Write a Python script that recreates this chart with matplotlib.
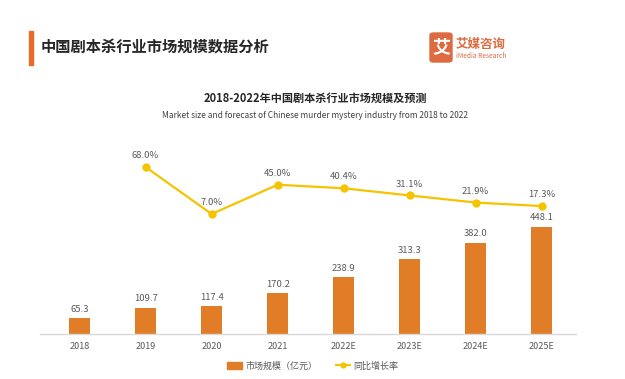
import matplotlib
matplotlib.use("Agg")
import matplotlib.pyplot as plt
from matplotlib.patches import FancyBboxPatch, Rectangle
from matplotlib.lines import Line2D
from matplotlib.patches import Patch

plt.rcParams['font.family'] = ['Noto Sans CJK SC', 'DejaVu Sans']

categories = ['2018', '2019', '2020', '2021', '2022E', '2023E', '2024E', '2025E']
market_size = [65.3, 109.7, 117.4, 170.2, 238.9, 313.3, 382.0, 448.1]
growth_x = ['2019', '2020', '2021', '2022E', '2023E', '2024E', '2025E']
growth = [68.0, 7.0, 45.0, 40.4, 31.1, 21.9, 17.3]

W, H = 625, 379
fig = plt.figure(figsize=(W/100, H/100), dpi=100)
fig.patch.set_facecolor('white')

# axes: left 40, right 576, top 145, bottom 334 (pixels)
ax = fig.add_axes([40/W, 1-334/H, (576-40)/W, (334-145)/H])
ax.set_facecolor('none')
bar_color = '#E07D26'
line_color = '#F5C400'
label_color = '#595959'

xpos = list(range(len(categories)))
ax.bar(xpos, market_size, width=0.31, color=bar_color, zorder=2)
for x, v in zip(xpos, market_size):
    ax.text(x, v + 18, f'{v:.1f}', ha='center', va='bottom', fontsize=6.8, color=label_color)
ax.set_xlim(-0.6, 7.52)
ax.set_ylim(0, 790)
ax.set_xticks(xpos)
ax.set_xticklabels(categories, fontsize=6.5, color=label_color)
ax.tick_params(axis='x', length=0, pad=6)
ax.set_yticks([])
for s in ['top', 'right', 'left']:
    ax.spines[s].set_visible(False)
ax.spines['bottom'].set_color('#d9d9d9')
ax.spines['bottom'].set_linewidth(1)

ax2 = ax.twinx()
gx = [categories.index(c) for c in growth_x]
ax2.plot(gx, growth, color=line_color, lw=1.6, marker='o', ms=5, zorder=3)
for x, v in zip(gx, growth):
    ax2.text(x, v + 9, f'{v:.1f}%', ha='center', va='bottom', fontsize=6.8, color=label_color)
ax2.set_ylim(-148.8, 96.6)
ax2.set_yticks([])
for s in ['top', 'right', 'left', 'bottom']:
    ax2.spines[s].set_visible(False)

# Title with orange bar
fig.patches.append(Rectangle((29/W, 1-65/H), 4/W, 34/H, transform=fig.transFigure,
                             color='#EA6A2C', zorder=5))
fig.text(41/W, 1-47/H, '中国剧本杀行业市场规模数据分析', fontsize=11, fontweight='bold',
         color='#262626', va='center', ha='left')

# Logo
fig.patches.append(FancyBboxPatch((430/W, 1-62/H), 22/W, 29/H, transform=fig.transFigure,
                                  boxstyle='round,pad=0,rounding_size=0.006',
                                  color='#DE6A40', zorder=5))
fig.text(441/W, 1-47/H, '艾', fontsize=13, fontweight='bold', color='white',
         ha='center', va='center', zorder=6)
fig.text(456/W, 1-44/H, '艾媒咨询', fontsize=9, fontweight='bold', color='#DE6A40',
         ha='left', va='center')
fig.text(456/W, 1-56/H, 'iMedia Research', fontsize=4.8, color='#DE6A40',
         ha='left', va='center')

# Chart titles
fig.text(315/W, 1-98/H, '2018-2022年中国剧本杀行业市场规模及预测', fontsize=8, fontweight='bold',
         color='#262626', ha='center', va='center')
fig.text(315/W, 1-115/H, 'Market size and forecast of Chinese murder mystery industry from 2018 to 2022',
         fontsize=6, color='#404040', ha='center', va='center')

# Legend
handles = [Patch(color=bar_color, label='市场规模（亿元）'),
           Line2D([0], [0], color=line_color, lw=1.5, marker='o', ms=3.5, label='同比增长率')]
leg = fig.legend(handles=handles, loc='center', bbox_to_anchor=(313/W, 1-366/H), ncol=2,
                 frameon=False, fontsize=6.5, handlelength=1.6, handleheight=0.7,
                 columnspacing=2.0, handletextpad=0.4)
for t in leg.get_texts():
    t.set_color(label_color)

fig.savefig('out.png', dpi=100, facecolor='white')
